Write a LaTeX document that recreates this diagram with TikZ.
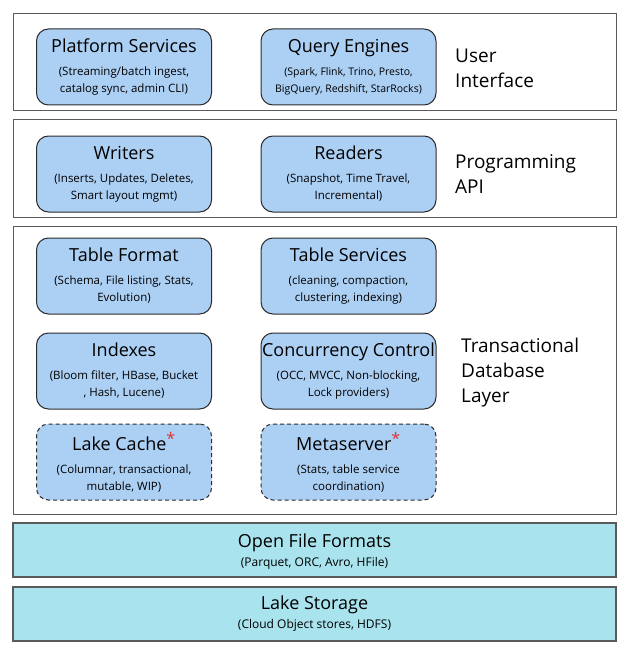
\documentclass[tikz,border=0pt]{standalone}
\usepackage{fontspec}
\setmainfont{Open Sans}
\definecolor{boxblue}{HTML}{ACCFF4}
\definecolor{boxcyan}{HTML}{A9E3EE}
\definecolor{edgedark}{HTML}{2B2B2B}
\definecolor{layeredge}{HTML}{5A5A5A}
\definecolor{starred}{HTML}{E03131}
\tikzset{
  layerbox/.style={draw=layeredge, line width=1.3pt, fill=white},
  basebox/.style={draw=layeredge, line width=1.3pt, fill=boxcyan, minimum width=603pt, minimum height=54pt, align=center, inner sep=0pt, font=\fontsize{12}{17}\selectfont},
  compbox/.style={draw=edgedark, line width=1pt, fill=boxblue, rounded corners=12pt, minimum width=175pt, minimum height=76pt, align=center, inner sep=0pt, font=\fontsize{11.5}{17}\selectfont},
  wipbox/.style={compbox, dashed, dash pattern=on 4pt off 3pt},
  sidelabel/.style={anchor=west, align=left, font=\fontsize{19}{25}\selectfont, inner sep=0pt},
}
\newcommand{\mytitlefont}{\fontsize{18}{20}\selectfont}
\newcommand{\mynarrowfont}{\fontsize{10.5}{17}\selectfont}
\newcommand{\myredstar}{\textsuperscript{\textcolor{starred}{\fontsize{16}{16}\selectfont *}}}
\begin{document}
\begin{tikzpicture}[x=1pt,y=-1pt]
\useasboundingbox (0,0) rectangle (629,650);
% layers
\node[layerbox, minimum width=603pt, minimum height=97pt, anchor=north west, inner sep=0pt] (ui) at (13,13) {};
\node[layerbox, minimum width=603pt, minimum height=98pt, anchor=north west, inner sep=0pt] (api) at (13,119) {};
\node[layerbox, minimum width=603pt, minimum height=288pt, anchor=north west, inner sep=0pt] (tdl) at (13,226) {};
\node[basebox, text depth=0pt] (off) at (314.5,550) {\rule{0pt}{6pt}{\mytitlefont Open File Formats}\\[2pt](Parquet, ORC, Avro, HFile)};
\node[basebox] (ls) at (314.5,614) {{\mytitlefont Lake Storage}\\[2pt](Cloud Object stores, HDFS)};
% components
\node[compbox] (ps) at (124,67) {{\mytitlefont Platform Services}\\[6pt](Streaming/batch ingest,\\catalog sync, admin CLI)};
\node[compbox] (qe) at (348.5,67) {{\mytitlefont Query Engines}\\[6pt]{\mynarrowfont (Spark, Flink, Trino, Presto,}\\{\mynarrowfont BigQuery, Redshift, StarRocks)}};
\node[compbox] (wr) at (124,174) {{\mytitlefont Writers}\\[6pt](Inserts, Updates, Deletes,\\Smart layout mgmt)};
\node[compbox] (rd) at (348.5,174) {{\mytitlefont Readers}\\[6pt](Snapshot, Time Travel,\\Incremental)};
\node[compbox] (tf) at (124,276) {{\mytitlefont Table Format}\\[6pt](Schema, File listing, Stats,\\Evolution)};
\node[compbox] (tsv) at (348.5,276) {{\mytitlefont Table Services}\\[6pt](cleaning, compaction,\\clustering, indexing)};
\node[compbox] (ix) at (124,371) {{\mytitlefont Indexes}\\[6pt](Bloom filter, HBase, Bucket\\, Hash, Lucene)};
\node[compbox] (cc) at (348.5,371) {{\mytitlefont Concurrency Control}\\[6pt](OCC, MVCC, Non-blocking,\\Lock providers)};
\node[wipbox] (lc) at (124,462) {{\mytitlefont Lake Cache\myredstar}\\[6pt](Columnar, transactional,\\mutable, WIP)};
\node[wipbox] (ms) at (348.5,462) {{\mytitlefont Metaserver\myredstar}\\[6pt](Stats, table service\\coordination)};
% side labels
\node[sidelabel] (uil) at (455,68) {User\\Interface};
\node[sidelabel] (apil) at (455,174) {Programming\\API};
\node[sidelabel] (tdll) at (461,373) {Transactional\\Database\\Layer};
\end{tikzpicture}
\end{document}
